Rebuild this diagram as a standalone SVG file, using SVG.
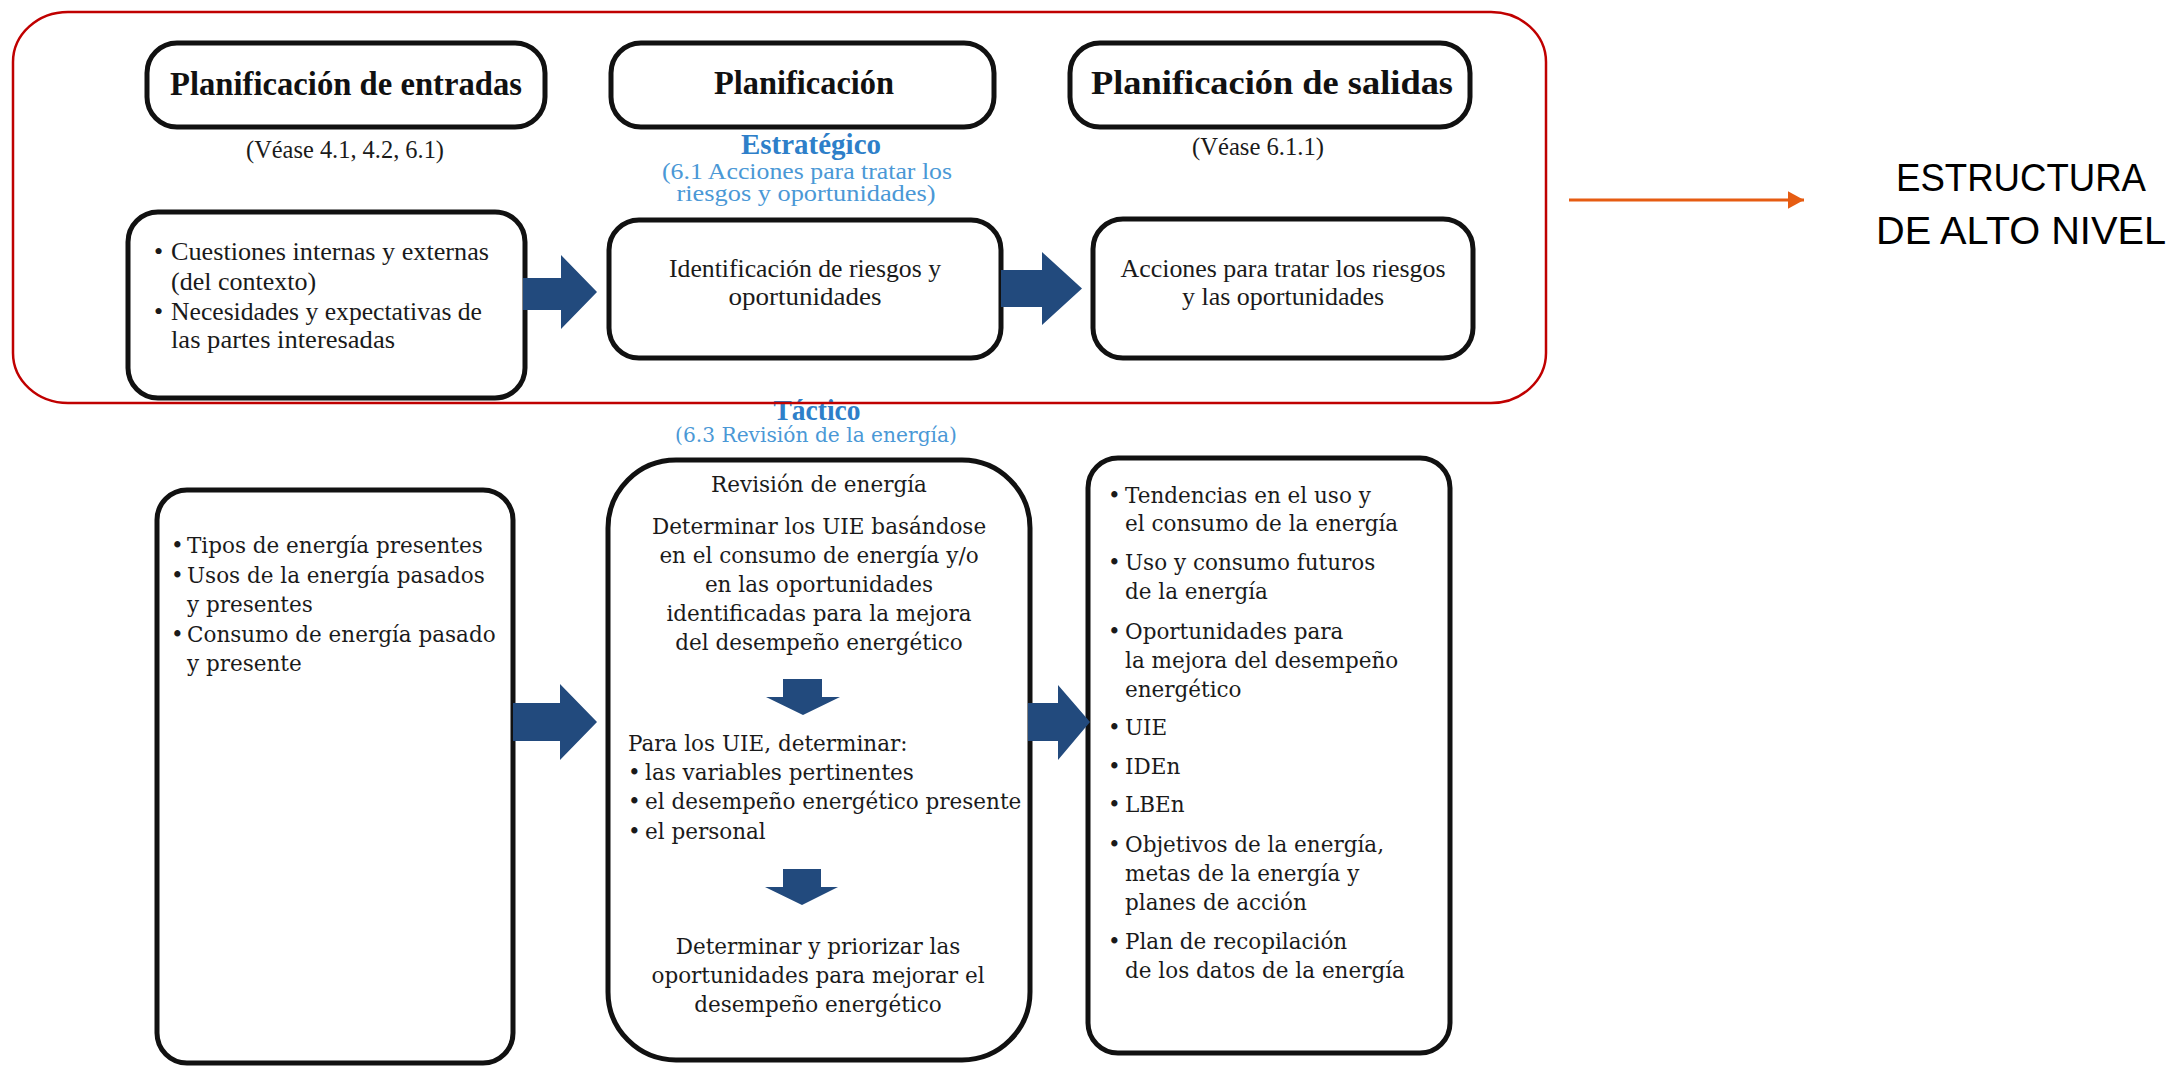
<svg xmlns="http://www.w3.org/2000/svg" width="2172" height="1068" viewBox="0 0 2172 1068">
<style>
.box{fill:#fff;stroke:#111;stroke-width:5}
.hd{font-family:"Liberation Serif","Times New Roman",serif;font-weight:bold;font-size:33px;text-anchor:middle;fill:#111}
.tt{font-family:"Liberation Serif","Times New Roman",serif;font-size:26px;fill:#1a1a1a}
.c{text-anchor:middle}
.bb{font-family:"Liberation Serif","Times New Roman",serif;font-weight:bold;font-size:28.5px;fill:#2e7fc9;text-anchor:middle}
.bl{font-family:"Liberation Serif","Times New Roman",serif;font-size:23px;fill:#4a98d6;text-anchor:middle}
.bt{font-family:"DejaVu Serif",serif;font-size:21.5px;fill:#1a1a1a}
.bt2{font-family:"DejaVu Serif",serif;font-size:21px;fill:#4a98d6;text-anchor:middle}
.big{font-family:"Liberation Sans",Arial,sans-serif;font-size:39px;fill:#000;text-anchor:middle}
.blk{fill:#224a7d}
</style>
<defs>
<marker id="oh" markerWidth="6" markerHeight="6" refX="5.5" refY="3" orient="auto" markerUnits="strokeWidth">
<path d="M0,0 L5.5,3 L0,6 z" fill="#e65c12"/>
</marker>
</defs>

<g id="n-plan-entradas">
<rect class="box" x="147" y="43" width="398" height="84" rx="30"/>
<text class="hd" x="346" y="95" textLength="352" lengthAdjust="spacingAndGlyphs">Planificación de entradas</text>
<text class="tt c" x="345" y="158" textLength="198" lengthAdjust="spacingAndGlyphs">(Véase 4.1, 4.2, 6.1)</text>
</g>

<g id="n-plan">
<rect class="box" x="611" y="43" width="383" height="84" rx="30"/>
<text class="hd" x="804" y="94" textLength="180" lengthAdjust="spacingAndGlyphs">Planificación</text>
<text class="bb" x="811" y="154" textLength="140" lengthAdjust="spacingAndGlyphs">Estratégico</text>
<text class="bl" x="807" y="179" textLength="290" lengthAdjust="spacingAndGlyphs">(6.1 Acciones para tratar los</text>
<text class="bl" x="806" y="201" textLength="259" lengthAdjust="spacingAndGlyphs">riesgos y oportunidades)</text>
</g>

<g id="n-plan-salidas">
<rect class="box" x="1070" y="43" width="400" height="84" rx="30"/>
<text class="hd" x="1272" y="94" textLength="362" lengthAdjust="spacingAndGlyphs">Planificación de salidas</text>
<text class="tt c" x="1258" y="155" textLength="132" lengthAdjust="spacingAndGlyphs">(Véase 6.1.1)</text>
</g>

<g id="n-cuestiones">
<rect class="box" x="128" y="212" width="397" height="186" rx="30"/>
<text class="tt" x="154" y="260">•</text>
<text class="tt" x="171" y="260" textLength="318" lengthAdjust="spacingAndGlyphs">Cuestiones internas y externas</text>
<text class="tt" x="171" y="290">(del contexto)</text>
<text class="tt" x="154" y="320">•</text>
<text class="tt" x="171" y="320" textLength="311" lengthAdjust="spacingAndGlyphs">Necesidades y expectativas de</text>
<text class="tt" x="171" y="348" textLength="224" lengthAdjust="spacingAndGlyphs">las partes interesadas</text>
</g>

<g id="n-identificacion">
<rect class="box" x="609" y="220" width="392" height="138" rx="30"/>
<text class="tt c" x="805" y="277" textLength="272" lengthAdjust="spacingAndGlyphs">Identificación de riesgos y</text>
<text class="tt c" x="805" y="305" textLength="153" lengthAdjust="spacingAndGlyphs">oportunidades</text>
</g>

<g id="n-acciones">
<rect class="box" x="1093" y="219" width="380" height="139" rx="30"/>
<text class="tt c" x="1283" y="277" textLength="325" lengthAdjust="spacingAndGlyphs">Acciones para tratar los riesgos</text>
<text class="tt c" x="1283" y="305">y las oportunidades</text>
</g>

<g id="n-estructura">
<text class="big" x="2021" y="191" textLength="250" lengthAdjust="spacingAndGlyphs">ESTRUCTURA</text>
<text class="big" x="2021" y="244" textLength="290" lengthAdjust="spacingAndGlyphs">DE ALTO NIVEL</text>
</g>

<g id="n-tactico">
<text class="bb" x="817" y="420" textLength="87" lengthAdjust="spacingAndGlyphs">Táctico</text>
<text class="bt2" x="816" y="442" textLength="282" lengthAdjust="spacingAndGlyphs">(6.3 Revisión de la energía)</text>
</g>

<g id="n-tipos">
<rect class="box" x="157" y="490" width="356" height="573" rx="30"/>
<text class="bt" x="171" y="553">•</text>
<text class="bt" x="187" y="553">Tipos de energía presentes</text>
<text class="bt" x="171" y="582.5">•</text>
<text class="bt" x="187" y="582.5">Usos de la energía pasados</text>
<text class="bt" x="187" y="612">y presentes</text>
<text class="bt" x="171" y="641.5">•</text>
<text class="bt" x="187" y="641.5">Consumo de energía pasado</text>
<text class="bt" x="187" y="671">y presente</text>
</g>

<g id="n-revision">
<rect class="box" x="608" y="460" width="422" height="600" rx="68"/>
<text class="bt c" x="819" y="492">Revisión de energía</text>
<text class="bt c" x="819" y="534">Determinar los UIE basándose</text>
<text class="bt c" x="819" y="562.5">en el consumo de energía y/o</text>
<text class="bt c" x="819" y="591.5">en las oportunidades</text>
<text class="bt c" x="819" y="621">identificadas para la mejora</text>
<text class="bt c" x="819" y="650">del desempeño energético</text>
<polygon class="blk" points="783,679 822,679 822,697 840,697 803,715 766,697 783,697"/>
<text class="bt" x="628" y="751">Para los UIE, determinar:</text>
<text class="bt" x="628" y="780">•</text>
<text class="bt" x="645" y="780">las variables pertinentes</text>
<text class="bt" x="628" y="809">•</text>
<text class="bt" x="645" y="809">el desempeño energético presente</text>
<text class="bt" x="628" y="839">•</text>
<text class="bt" x="645" y="839">el personal</text>
<polygon class="blk" points="783,869 821,869 821,887 838,887 802,905 765,887 783,887"/>
<text class="bt c" x="818" y="954">Determinar y priorizar las</text>
<text class="bt c" x="818" y="983">oportunidades para mejorar el</text>
<text class="bt c" x="818" y="1012">desempeño energético</text>
</g>

<g id="n-salidas-lista">
<rect class="box" x="1088" y="458" width="362" height="595" rx="30"/>
<text class="bt" x="1108" y="502.5">•</text>
<text class="bt" x="1125" y="502.5">Tendencias en el uso y</text>
<text class="bt" x="1125" y="531">el consumo de la energía</text>
<text class="bt" x="1108" y="570">•</text>
<text class="bt" x="1125" y="570">Uso y consumo futuros</text>
<text class="bt" x="1125" y="599">de la energía</text>
<text class="bt" x="1108" y="638.5">•</text>
<text class="bt" x="1125" y="638.5">Oportunidades para</text>
<text class="bt" x="1125" y="667.5">la mejora del desempeño</text>
<text class="bt" x="1125" y="696.5">energético</text>
<text class="bt" x="1108" y="735">•</text>
<text class="bt" x="1125" y="735">UIE</text>
<text class="bt" x="1108" y="774">•</text>
<text class="bt" x="1125" y="774">IDEn</text>
<text class="bt" x="1108" y="812">•</text>
<text class="bt" x="1125" y="812">LBEn</text>
<text class="bt" x="1108" y="852">•</text>
<text class="bt" x="1125" y="852">Objetivos de la energía,</text>
<text class="bt" x="1125" y="881">metas de la energía y</text>
<text class="bt" x="1125" y="910">planes de acción</text>
<text class="bt" x="1108" y="948.5">•</text>
<text class="bt" x="1125" y="948.5">Plan de recopilación</text>
<text class="bt" x="1125" y="978">de los datos de la energía</text>
</g>

<g id="connectors">
<polygon class="blk" points="523,278 561,278 561,255 597,292 561,329 561,310 523,310"/>
<polygon class="blk" points="1001,270 1042,270 1042,252 1082,288.5 1042,325 1042,307 1001,307"/>
<polygon class="blk" points="513,703 560,703 560,684 597,722 560,760 560,741 513,741"/>
<polygon class="blk" points="1028,703 1058,703 1058,685 1090,722 1058,760 1058,741 1028,741"/>
<line x1="1569" y1="200" x2="1804" y2="200" stroke="#e65c12" stroke-width="3" marker-end="url(#oh)"/>
</g>

<g id="n-alto-nivel-frame">
<rect x="13" y="12" width="1533" height="391" rx="55" ry="50" fill="none" stroke="#c00000" stroke-width="2.5"/>
</g>
</svg>
